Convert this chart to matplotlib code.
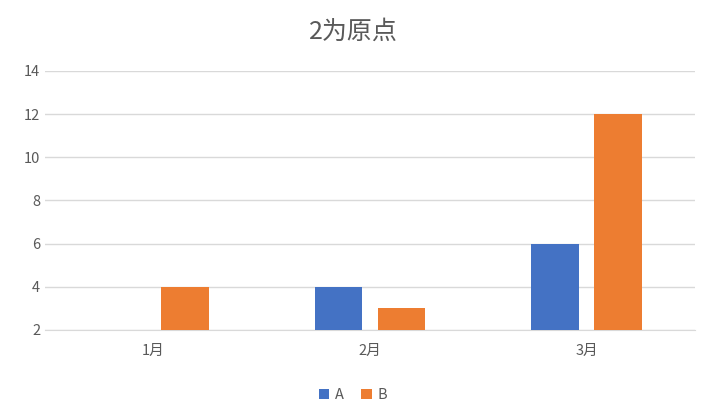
import numpy as np
import matplotlib.pyplot as plt

plt.rcParams['font.family'] = ['Noto Sans CJK SC', 'DejaVu Sans']

categories = ['1月', '2月', '3月']
series_a = [2, 4, 6]
series_b = [4, 3, 12]
yticks = [2, 4, 6, 8, 10, 12, 14]

fig = plt.figure(figsize=(7.06, 4.15), dpi=100)
ax = fig.add_axes([0.064, 0.205, 0.92, 0.624])

x = np.arange(len(categories))
w = 0.22
base = 2
ax.bar(x - 0.145, np.array(series_a) - base, w, bottom=base, color='#4472C4', label='A', zorder=3)
ax.bar(x + 0.145, np.array(series_b) - base, w, bottom=base, color='#ED7D31', label='B', zorder=3)

ax.set_xlim(-0.5, 2.5)
ax.set_ylim(2, 14)
ax.set_yticks(yticks)
ax.set_xticks(x)
ax.set_xticklabels(categories)
ax.grid(axis='y', color='#D9D9D9', lw=1, zorder=0)
for s in ['top', 'right', 'left']:
    ax.spines[s].set_visible(False)
ax.spines['bottom'].set_color('#D9D9D9')
ax.tick_params(length=0, colors='#595959', labelsize=10.5)
ax.tick_params(axis='x', pad=10)

fig.suptitle('2为原点', y=0.955, fontsize=18, color='#595959')
fig.legend(loc='lower center', ncol=2, frameon=False, bbox_to_anchor=(0.5, 0.0),
           handlelength=0.7, handleheight=0.7, fontsize=10.5, labelcolor='#595959',
           columnspacing=1.2, handletextpad=0.4)

fig.savefig('out.png', dpi=100)
